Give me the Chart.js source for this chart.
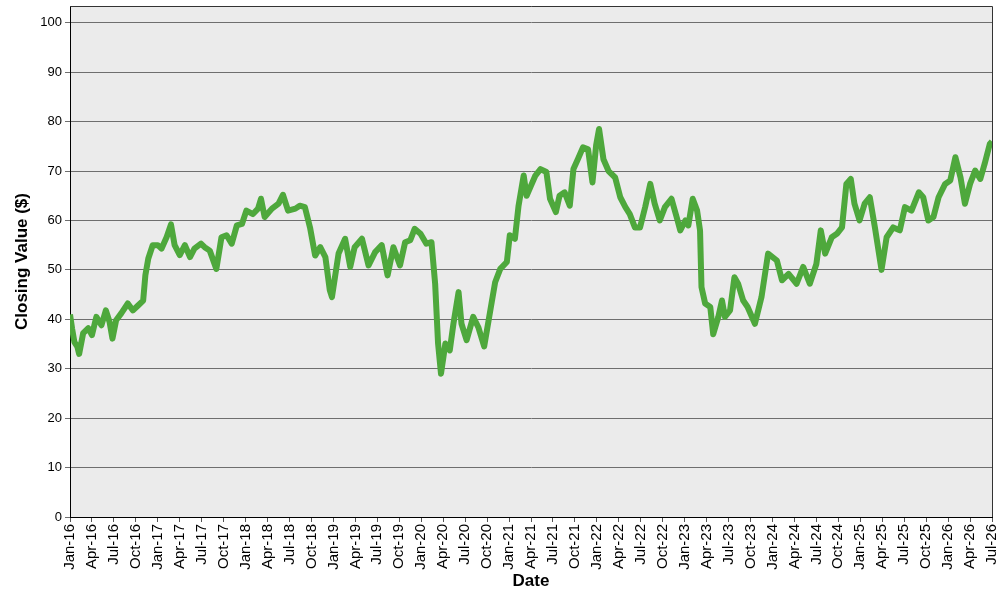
<!DOCTYPE html>
<html>
<head>
<meta charset="utf-8">
<script src="https://cdn.jsdelivr.net/npm/chart.js@4.4.1/dist/chart.umd.min.js"></script>
<style>
  html, body { margin: 0; padding: 0; background: #fff; }
  #wrap { width: 1000px; height: 600px; }
</style>
</head>
<body>
<div id="wrap"><canvas id="chart" width="1000" height="600"></canvas></div>
<script>
// --- data (x = months since Jan 2016) ---
const months = [
  0, 0.3, 0.6, 1.0, 1.25, 1.8, 2.5, 3.0, 3.6, 4.3, 4.9, 5.4, 5.8, 6.3, 7.0, 7.9, 8.6, 9.3, 10.0, 10.3,
  10.7, 11.3, 12.0, 12.5, 13.2, 13.8, 14.3, 15.0, 15.7, 16.4, 17.0, 17.9, 18.4, 19.1, 20.0, 20.7, 21.4, 22.1, 22.8, 23.5,
  24.1, 25.0, 25.7, 26.1, 26.6, 27.6, 28.5, 29.1, 29.8, 30.8, 31.4, 32.1, 32.8, 33.5, 34.2, 34.9, 35.5, 35.8, 36.2, 36.7,
  37.6, 38.3, 38.9, 39.9, 40.8, 41.7, 42.6, 43.4, 44.2, 45.1, 45.8, 46.5, 47.1, 47.9, 48.7, 49.4, 49.9, 50.3, 50.7, 51.3,
  51.9, 52.4, 53.1, 53.5, 54.2, 55.1, 55.8, 56.6, 57.6, 58.1, 58.8, 59.7, 60.1, 60.8, 61.3, 62.0, 62.4, 62.9, 63.6, 64.3,
  65.1, 65.6, 66.4, 66.9, 67.6, 68.3, 68.8, 69.4, 70.1, 70.8, 71.4, 71.9, 72.3, 72.9, 73.6, 74.5, 75.2, 75.9, 76.5, 77.2,
  77.9, 78.6, 79.3, 79.9, 80.6, 81.3, 82.2, 82.9, 83.4, 84.1, 84.5, 85.1, 85.7, 86.1, 86.3, 86.8, 87.5, 87.9, 88.6, 89.1,
  89.5, 90.2, 90.8, 91.3, 92.0, 92.6, 93.6, 94.5, 95.4, 96.6, 97.3, 98.2, 99.3, 100.2, 101.1, 102.0, 102.6, 103.2, 104.1, 104.8,
  105.5, 106.1, 106.7, 107.2, 107.9, 108.6, 109.3, 110.0, 110.9, 111.6, 112.5, 113.4, 114.1, 115.0, 116.0, 116.6, 117.3, 118.0, 118.7, 119.6,
  120.3, 121.0, 121.7, 122.3, 123.0, 123.7, 124.4, 125.0, 125.7, 126.0
];
const closes = [
  41, 38, 35.4, 34.5, 33, 37.2, 38.2, 36.8, 40.5, 38.8, 41.8, 39.5, 36.1, 39.8, 41.2, 43.2, 41.8, 42.8, 43.8, 48.9,
  52.3, 55, 55, 54.3, 56.6, 59.2, 55, 53, 55, 52.6, 54.3, 55.3, 54.6, 53.9, 50.2, 56.6, 57, 55.3, 59, 59.3,
  62, 61.3, 62.4, 64.4, 60.7, 62.4, 63.4, 65.2, 62, 62.4, 63, 62.7, 58.6, 52.9, 54.6, 52.6, 45.9, 44.5, 48.4, 53.3,
  56.3, 50.6, 54.6, 56.3, 50.9, 53.6, 55, 48.9, 54.6, 50.9, 55.6, 56, 58.3, 57.3, 55.3, 55.6, 47.2, 35.1, 29, 35.1,
  33.7, 39.1, 45.5, 39.1, 35.8, 40.5, 38.4, 34.5, 43.2, 47.5, 50.2, 51.6, 57, 56.3, 63, 69.1, 65, 66.7, 69.1, 70.4,
  69.8, 64.4, 61.7, 65, 65.7, 63, 70.4, 72.4, 74.8, 74.4, 67.7, 75.2, 78.5, 72.4, 70, 68.7, 64.7, 62.7, 61.3, 58.6,
  58.6, 62.7, 67.4, 63.4, 60, 62.7, 64.4, 60.7, 58, 60, 59, 64.4, 62, 58, 46.5, 43.2, 42.5, 37, 40.5, 43.8,
  40.5, 41.8, 48.5, 47.2, 43.8, 42.5, 39.1, 44.5, 53.3, 51.9, 47.9, 49.2, 47.2, 50.6, 47.2, 51.2, 58, 53.3, 56.6, 57.3,
  58.6, 67.4, 68.4, 63.4, 60, 63.4, 64.7, 58.6, 50, 56.6, 58.6, 58, 62.7, 62, 65.7, 64.7, 60, 60.7, 64.7, 67.4,
  68.1, 72.8, 68.7, 63.4, 67.4, 70.1, 68.4, 71.5, 75.5, 76
];
const tickLabels = [
  'Jan-16','Apr-16','Jul-16','Oct-16','Jan-17','Apr-17','Jul-17','Oct-17',
  'Jan-18','Apr-18','Jul-18','Oct-18','Jan-19','Apr-19','Jul-19','Oct-19',
  'Jan-20','Apr-20','Jul-20','Oct-20','Jan-21','Apr-21','Jul-21','Oct-21',
  'Jan-22','Apr-22','Jul-22','Oct-22','Jan-23','Apr-23','Jul-23','Oct-23',
  'Jan-24','Apr-24','Jul-24','Oct-24','Jan-25','Apr-25','Jul-25','Oct-25',
  'Jan-26','Apr-26','Jul-26'
];

const points = months.map((m, i) => ({ x: m, y: closes[i] }));
const FONT = '"Liberation Sans", Arial, sans-serif';

// grey plot background and a frame round the plot area
const plotFrame = {
  id: 'plotFrame',
  beforeDraw(chart) {
    const { ctx, chartArea: a } = chart;
    ctx.save();
    ctx.fillStyle = '#ebebeb';
    ctx.fillRect(a.left, a.top, a.right - a.left, a.bottom - a.top);
    ctx.restore();
  },
  afterDraw(chart) {
    const { ctx, chartArea: a } = chart;
    ctx.save();
    ctx.strokeStyle = '#333';
    ctx.lineWidth = 1;
    ctx.beginPath();
    ctx.moveTo(a.left, a.top + 0.5);
    ctx.lineTo(a.right + 0.5, a.top + 0.5);
    ctx.lineTo(a.right + 0.5, a.bottom);
    ctx.stroke();
    ctx.restore();
  }
};

new Chart(document.getElementById('chart'), {
  type: 'line',
  data: {
    datasets: [{
      data: points,
      borderColor: '#4ea83c',
      borderWidth: 6,
      borderJoinStyle: 'round',
      pointRadius: 0,
      tension: 0,
      fill: false
    }]
  },
  options: {
    responsive: false,
    animation: false,
    layout: { padding: { top: 6, right: 8, left: 0, bottom: 0 } },
    plugins: { legend: { display: false }, tooltip: { enabled: false } },
    scales: {
      x: {
        type: 'linear',
        min: 0,
        max: 126,
        afterFit: s => { s.height = 83; s.paddingLeft = 0; s.paddingRight = 0; },
        afterBuildTicks: s => { s.ticks = tickLabels.map((_, i) => ({ value: i * 3 })); },
        grid: { display: true, drawOnChartArea: false, color: '#555', tickLength: 5 },
        border: { color: '#000', width: 1 },
        ticks: {
          autoSkip: false,
          minRotation: 90,
          maxRotation: 90,
          padding: 2,
          color: '#000',
          font: { family: FONT, size: 15 },
          callback: v => tickLabels[Math.round(v / 3)]
        },
        title: {
          display: true,
          text: 'Date',
          color: '#000',
          font: { family: FONT, size: 17, weight: 'bold' },
          padding: { top: 0, bottom: 8 }
        }
      },
      y: {
        min: 0,
        max: 103.4,
        afterFit: s => { s.width = 70; s.paddingTop = 0; s.paddingBottom = 0; },
        afterBuildTicks: s => { s.ticks = s.ticks.filter(t => t.value % 10 === 0); },
        grid: { color: '#6e6e6e', tickLength: 5 },
        border: { color: '#000', width: 1 },
        ticks: {
          stepSize: 10,
          padding: 3,
          color: '#000',
          font: { family: FONT, size: 13 }
        },
        title: {
          display: true,
          text: 'Closing Value ($)',
          color: '#000',
          font: { family: FONT, size: 17, weight: 'bold' },
          padding: { top: 12, bottom: 0 }
        }
      }
    }
  },
  plugins: [plotFrame]
});
</script>
</body>
</html>
